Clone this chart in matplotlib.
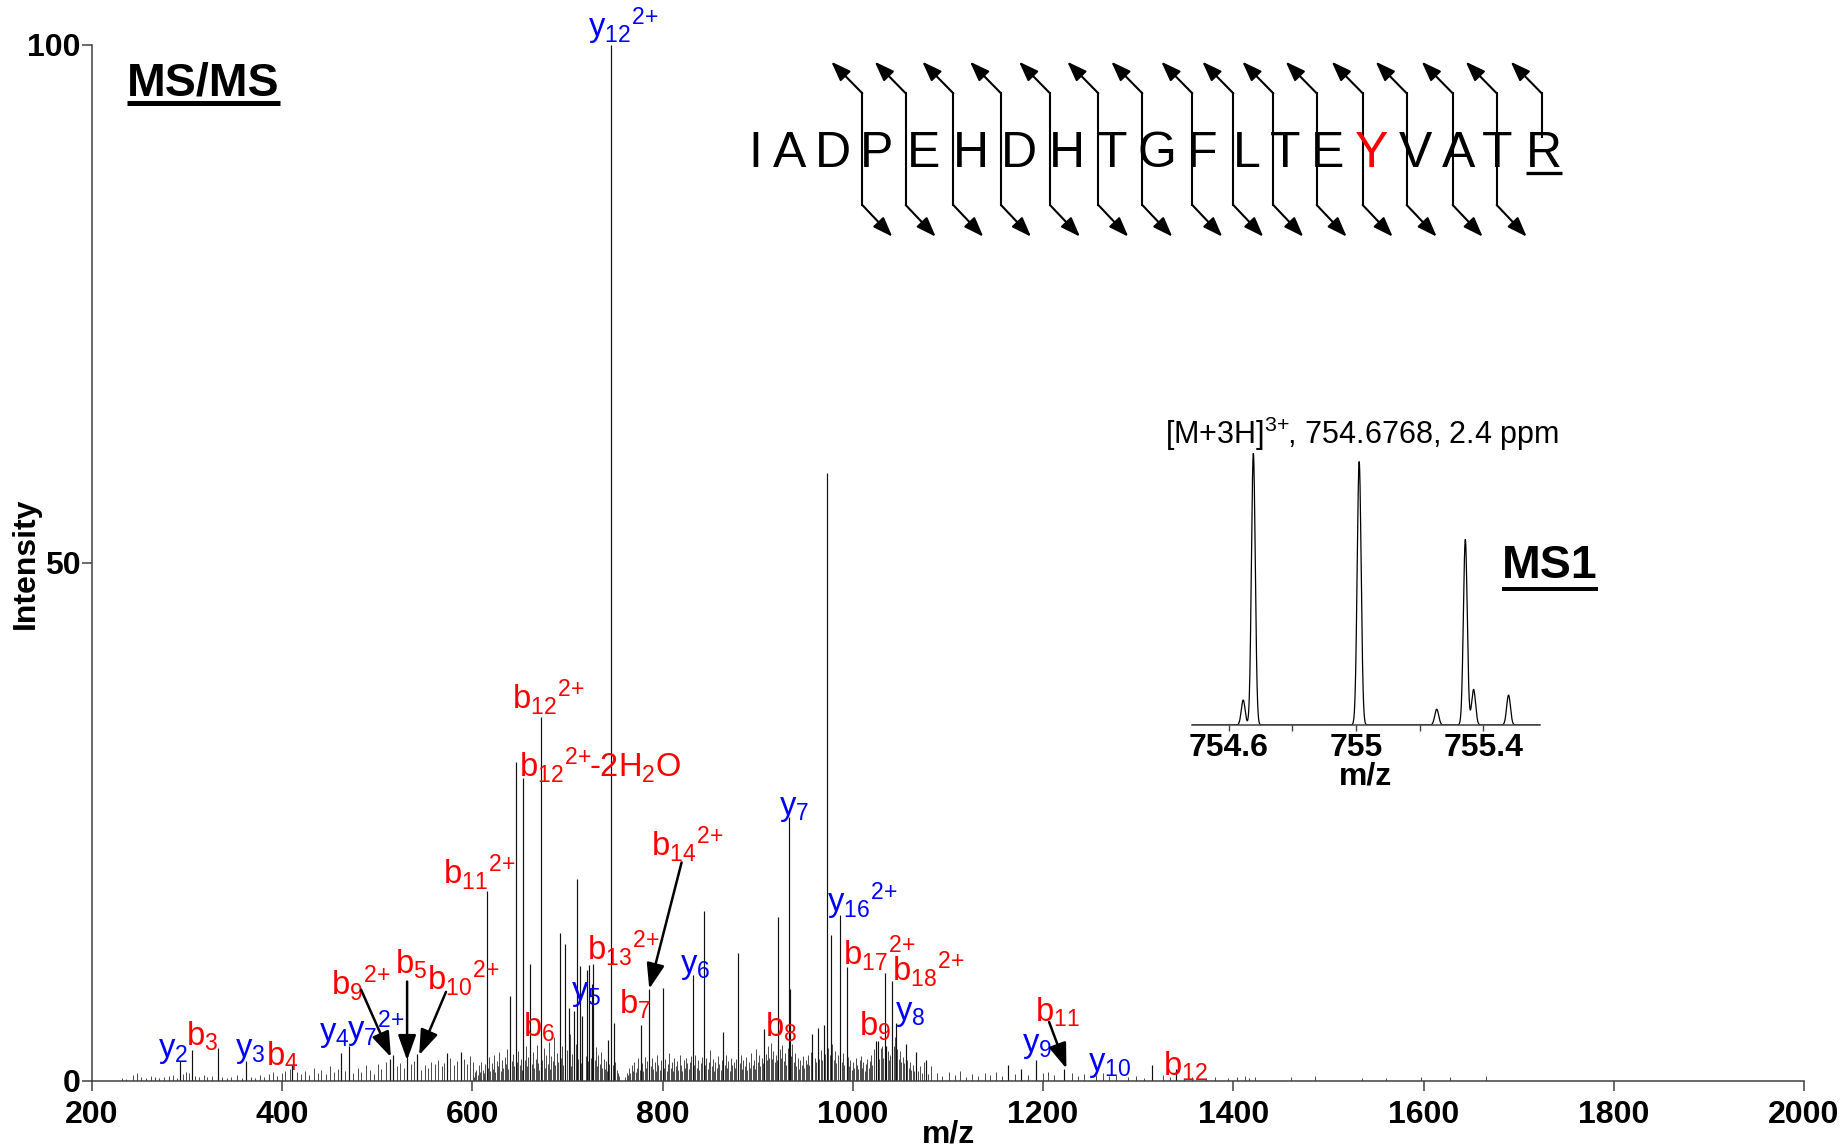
import numpy as np
import matplotlib
matplotlib.use("Agg")
import matplotlib.pyplot as plt
from matplotlib.lines import Line2D
from matplotlib.patches import FancyArrowPatch

plt.rcParams['font.family'] = ['Liberation Sans', 'DejaVu Sans']
plt.rcParams['mathtext.fontset'] = 'custom'
plt.rcParams['mathtext.rm'] = 'Liberation Sans'
plt.rcParams['mathtext.it'] = 'Liberation Sans:italic'
plt.rcParams['mathtext.bf'] = 'Liberation Sans:bold'
plt.rcParams['mathtext.default'] = 'regular'

W, H = 1848, 1147

# ---------------- MS/MS spectrum: labelled / prominent peaks
peak_mz = [292.0, 304.7, 332.2, 362.4, 410.6, 462.0, 470.6, 513.4, 516.7, 531.5, 542.0, 573.0, 587.8,
           615.0, 639.5, 645.4, 653.5, 660.5, 671.7, 691.6, 697.8, 701.8, 706.7, 710.0, 713.0, 714.8,
           720.0, 722.8, 725.3, 727.0, 742.0, 745.6, 749.0,
           777.3, 786.0, 800.0, 831.8, 843.0, 863.6, 879.4, 906.8, 921.6, 932.5, 933.9, 957.0, 963.0,
           969.6, 972.3, 977.0, 986.0, 993.3,
           1024.0, 1026.6, 1033.7, 1035.0, 1041.5, 1045.5, 1055.8, 1066.0, 1077.0,
           1163.0, 1177.0, 1192.8, 1222.0, 1314.0, 1340.0]
peak_int = [1.9, 3.0, 3.2, 1.9, 1.5, 2.7, 3.4, 2.1, 2.5, 2.3, 2.6, 2.7, 2.8,
            18.3, 8.2, 30.8, 29.2, 11.3, 35.1, 14.3, 13.2, 7.0, 6.8, 19.5, 11.1, 6.3,
            10.7, 11.2, 9.4, 11.3, 4.0, 100.0, 5.6,
            5.4, 8.9, 9.0, 10.2, 16.4, 4.7, 12.4, 5.0, 15.8, 25.5, 8.9, 4.5, 5.1,
            5.4, 58.7, 14.1, 16.0, 11.0,
            3.9, 3.9, 10.4, 3.4, 9.7, 5.6, 3.6, 2.8, 2.0,
            1.5, 1.2, 2.0, 1.2, 1.5, 1.2]

# small background peaks, low m/z
low_mz = [231.5, 236.0, 243.4, 247.0, 251.8, 256.3, 262.0, 266.5, 270.8, 275.2,
          280.9, 285.4, 289.6, 295.3, 299.1, 302.0, 308.4, 312.7, 317.9, 321.3,
          326.0, 336.8, 341.5, 346.2, 352.0, 357.4, 366.8, 371.5, 376.3, 381.0,
          386.6, 390.2, 394.8, 399.5, 403.0, 407.9, 415.3, 419.8, 424.4, 428.1,
          433.0, 437.7, 441.2, 446.5, 450.1, 454.8, 458.3, 466.2, 474.9, 479.5,
          483.3, 487.9, 492.4, 496.0, 500.7, 504.3, 508.8, 520.4, 524.0, 527.6,
          535.3, 538.8, 546.1, 549.7, 553.2, 556.9, 560.4, 564.1, 567.6, 570.3,
          576.8, 580.5, 584.0, 590.9, 594.3, 597.8, 601.0]
low_int = [0.3, 0.2, 0.6, 0.8, 0.4, 0.3, 0.5, 0.4, 0.3, 0.4,
           0.5, 0.6, 0.3, 0.7, 0.9, 0.8, 0.5, 0.4, 0.6, 0.4,
           0.5, 0.4, 0.3, 0.4, 0.6, 0.3, 0.4, 0.3, 0.6, 0.4,
           0.7, 0.9, 0.5, 0.8, 1.0, 1.2, 0.9, 0.7, 1.0, 0.6,
           1.3, 0.8, 1.1, 0.7, 1.4, 0.9, 1.2, 1.0, 0.8, 1.3,
           0.9, 1.5, 1.1, 0.7, 1.6, 1.2, 1.8, 1.4, 1.7, 1.3,
           1.6, 1.9, 1.1, 1.5, 1.3, 1.8, 1.6, 2.0, 1.4, 1.7,
           2.2, 1.5, 1.9, 2.1, 1.6, 2.4, 1.8]

# dense background, 600-755
mid_mz = [601.2, 602.9, 604.1, 605.6, 606.8, 608.3, 609.5, 611.0, 612.4, 613.6,
          616.2, 617.5, 618.9, 620.3, 621.6, 622.8, 624.2, 625.7, 627.0, 628.4,
          629.6, 631.1, 632.5, 633.8, 635.2, 636.6, 637.9, 641.3, 642.6, 643.9,
          646.8, 648.1, 649.5, 650.8, 652.2, 654.9, 656.2, 657.6, 658.9, 662.4,
          663.7, 665.1, 666.4, 667.8, 669.1, 670.5, 673.6, 674.9, 676.3, 677.6,
          679.0, 680.3, 681.7, 683.0, 684.4, 685.7, 687.1, 688.4, 689.8, 693.0,
          694.4, 695.7, 699.6, 701.0, 702.3, 703.7, 705.0, 708.5, 709.2, 711.5,
          712.8, 714.2, 715.5, 718.9, 720.2, 721.6, 722.9, 724.3, 725.6, 728.4,
          729.7, 731.1, 732.4, 733.8, 735.1, 736.5, 737.8, 739.2, 740.5, 741.9,
          743.2, 744.0, 747.3, 750.1, 751.5, 752.8, 754.0]
mid_int = [0.4, 0.9, 1.1, 0.6, 1.5, 0.9, 1.8, 1.1, 0.8, 1.6,
           1.3, 2.3, 1.0, 1.7, 1.2, 2.5, 0.9, 1.9, 1.4, 2.8,
           1.0, 2.0, 1.3, 2.3, 1.6, 3.1, 1.2, 1.9, 2.6, 1.4,
           1.8, 2.9, 1.5, 2.1, 1.1, 2.0, 3.4, 1.4, 2.3, 1.6,
           2.8, 1.3, 2.1, 3.5, 1.7, 1.1, 2.0, 3.2, 1.3, 2.5,
           1.6, 3.8, 1.2, 2.4, 1.9, 4.2, 1.5, 2.7, 1.8, 2.2,
           3.4, 1.5, 3.0, 2.0, 4.5, 1.4, 2.6, 1.8, 3.6, 2.1,
           4.0, 1.7, 2.9, 2.4, 3.8, 1.9, 3.2, 2.2, 4.8, 2.0,
           3.3, 1.4, 2.5, 1.6, 2.8, 1.3, 2.1, 1.2, 1.9, 1.0,
           1.6, 0.9, 1.5, 1.8, 1.1, 0.8, 0.5]

# dense background, 760-1083
high_mz = [760.5, 762.0, 763.4, 764.8, 766.1, 767.5, 768.9, 770.2, 771.6, 773.0,
           774.3, 775.7, 778.5, 779.8, 781.2, 782.6, 783.9, 787.4, 788.8, 790.1,
           791.5, 792.9, 794.2, 795.6, 797.0, 798.3, 801.5, 802.9, 804.2, 805.6,
           807.0, 808.3, 809.7, 811.1, 812.4, 813.8, 815.2, 816.5, 817.9, 819.3,
           820.6, 822.0, 823.4, 824.7, 826.1, 827.5, 828.8, 830.2, 833.0, 834.3,
           835.7, 837.1, 838.4, 839.8, 841.2, 844.6, 846.0, 847.3, 848.7, 850.1,
           851.4, 852.8, 854.2, 855.5, 856.9, 858.3, 859.6, 861.0, 862.4, 865.1,
           866.5, 867.9, 869.2, 870.6, 872.0, 873.3, 874.7, 876.1, 877.4, 880.8,
           882.2, 883.5, 884.9, 886.3, 887.6, 889.0, 890.4, 891.7, 893.1, 894.5,
           895.8, 897.2, 898.6, 899.9, 901.3, 902.7, 904.0, 905.4, 908.2, 909.5,
           910.9, 912.3, 913.6, 915.0, 916.4, 917.7, 919.1, 920.4, 923.2, 924.5,
           925.9, 927.3, 928.6, 930.0, 931.4, 935.1, 936.5, 937.9, 939.2, 940.6,
           942.0, 943.3, 944.7, 946.1, 947.4, 948.8, 950.2, 951.5, 952.9, 954.3,
           955.6, 960.3, 961.0, 964.5, 966.2, 967.8, 970.5, 973.8, 976.2, 978.4,
           979.8, 981.1, 982.5, 983.9, 988.3, 989.6, 991.0, 994.7, 996.0, 997.4,
           998.8, 1000.1, 1001.5, 1002.9, 1004.2, 1005.6, 1007.0, 1008.3, 1009.7, 1011.1,
           1012.4, 1013.8, 1015.2, 1016.5, 1017.9, 1019.3, 1020.6, 1022.0, 1027.8, 1029.1,
           1030.5, 1031.9, 1036.4, 1037.8, 1039.2, 1043.0, 1044.4, 1046.8, 1048.2, 1049.6,
           1050.9, 1052.3, 1053.7, 1057.2, 1058.6, 1060.0, 1061.3, 1062.7, 1064.1, 1066.0,
           1068.2, 1070.5, 1072.3, 1074.8, 1077.0, 1079.4, 1082.6]
high_int = [0.4, 0.8, 0.6, 1.3, 0.8, 1.5, 1.0, 1.8, 0.9, 1.3,
            2.2, 1.1, 1.7, 1.0, 2.3, 1.3, 1.9, 1.4, 2.2, 1.2,
            1.8, 1.0, 2.5, 1.5, 1.1, 2.0, 1.3, 2.1, 1.0, 1.6,
            2.7, 1.3, 1.8, 1.0, 2.2, 1.4, 1.9, 1.1, 2.5, 1.5,
            1.0, 2.0, 1.3, 2.2, 1.7, 1.2, 1.8, 2.4, 1.5, 2.5,
            1.3, 2.0, 1.1, 1.7, 2.3, 1.5, 2.2, 1.2, 1.8, 3.0,
            1.4, 2.1, 1.0, 1.8, 1.3, 2.4, 1.6, 1.1, 2.0, 1.5,
            2.5, 1.3, 1.9, 1.0, 2.2, 1.5, 1.8, 1.3, 2.1, 1.7,
            2.5, 1.2, 2.0, 1.4, 2.3, 1.1, 1.8, 1.3, 2.7, 1.5,
            2.0, 1.2, 3.1, 1.8, 2.5, 1.4, 2.2, 1.7, 2.6, 2.0,
            3.4, 2.2, 3.7, 2.1, 2.9, 1.8, 2.5, 2.0, 3.1, 2.2,
            3.5, 1.9, 2.7, 1.5, 3.2, 2.4, 3.6, 1.8, 2.7, 1.4,
            2.2, 1.2, 2.0, 1.5, 2.4, 1.3, 2.0, 1.6, 2.5, 1.5,
            2.8, 2.2, 1.8, 2.1, 3.0, 2.0, 2.6, 3.2, 2.5, 3.6,
            2.0, 2.9, 1.7, 2.5, 1.8, 2.7, 1.5, 2.3, 1.4, 2.0,
            1.1, 1.8, 1.3, 2.2, 1.5, 1.2, 2.0, 2.4, 1.3, 1.8,
            1.0, 1.6, 2.1, 1.3, 1.9, 2.5, 1.5, 3.1, 2.1, 3.2,
            3.4, 2.2, 2.9, 2.0, 2.5, 3.4, 4.2, 3.1, 2.1, 2.9,
            1.8, 2.3, 1.7, 2.0, 1.3, 1.8, 1.1, 1.5, 1.0, 2.0,
            1.0, 1.4, 0.8, 1.8, 0.9, 0.7, 1.4]

# sparse background, high m/z
tail_mz = [1088.5, 1094.0, 1101.2, 1107.8, 1112.4, 1119.0, 1125.6, 1131.3, 1138.9, 1144.2,
           1150.7, 1156.3, 1170.1, 1184.5, 1199.6, 1205.3, 1211.8, 1230.4, 1236.7, 1243.2,
           1256.0, 1263.1, 1269.4, 1276.5, 1288.9, 1297.3, 1306.0, 1325.7, 1333.4, 1348.2,
           1356.9, 1371.5, 1381.0, 1394.2, 1403.7, 1412.0, 1416.8, 1422.3, 1461.0, 1486.0,
           1535.6, 1561.0, 1597.0, 1627.6, 1666.0]
tail_int = [0.8, 0.5, 0.9, 0.6, 1.0, 0.4, 0.7, 0.5, 0.8, 0.6,
            0.9, 0.5, 0.7, 0.6, 0.8, 0.9, 0.6, 0.8, 0.5, 0.7,
            0.6, 0.8, 0.5, 0.6, 0.4, 0.5, 0.3, 0.6, 0.4, 0.3,
            0.4, 0.3, 0.4, 0.3, 0.4, 0.5, 0.3, 0.4, 0.4, 0.5,
            0.3, 0.3, 0.4, 0.4, 0.5]

# fragment ion labels (left edge m/z, baseline intensity)
Z2 = '$^{2\\!+\\!\\!}$'
ion_text = ['y$_{12}$' + Z2, 'b$_{12}$' + Z2, 'b$_{12}$' + Z2 + '-2H$_2$O', 'b$_{11}$' + Z2,
            'b$_{14}$' + Z2, 'y$_7$', 'y$_{16}$' + Z2, 'b$_{17}$' + Z2, 'b$_{18}$' + Z2,
            'y$_8$', 'b$_9$', 'b$_8$', 'y$_6$', 'b$_{13}$' + Z2, 'y$_5$', 'b$_7$', 'b$_6$',
            'b$_{10}$' + Z2, 'b$_5$', 'b$_9$' + Z2, 'y$_4$', 'y$_7$' + Z2, 'y$_2$', 'b$_3$',
            'y$_3$', 'b$_4$', 'y$_9$', 'b$_{11}$', 'y$_{10}$', 'b$_{12}$']
ion_mz = [721.6, 641.2, 649.0, 569.2, 787.6, 922.5, 972.3, 989.8, 1040.7, 1044.0, 1006.6, 907.5,
          818.2, 720.7, 703.2, 754.0, 653.4, 552.4, 519.1, 451.6, 438.5, 468.0, 269.4, 299.0,
          350.2, 383.0, 1178.3, 1191.3, 1247.3, 1326.0]
ion_y = [100.8, 35.9, 29.4, 19.0, 21.7, 25.7, 16.3, 11.2, 9.7, 5.9, 4.4, 4.25,
         10.4, 11.7, 7.8, 6.5, 4.25, 8.8, 10.4, 8.3, 3.9, 3.9, 2.3, 3.4,
         2.3, 1.5, 2.8, 5.7, 1.0, 0.55]

# label arrows: (from m/z, from intensity) -> (to m/z, to intensity)
arrow_from = [(483.0, 8.8), (531.3, 9.6), (572.2, 8.6), (819.9, 21.1), (1206.3, 5.7)]
arrow_to = [(514.3, 2.3), (531.3, 2.0), (544.0, 2.5), (785.9, 8.9), (1224.5, 1.2)]

# ---------------- MS1 inset: isotope cluster
ms1_mz = [754.645, 754.677, 755.010, 755.254, 755.344, 755.370, 755.480]
ms1_int = [9.2, 100.0, 96.9, 5.8, 68.3, 13.1, 11.0]
ms1_sigma = [0.0060, 0.0060, 0.0062, 0.0062, 0.0060, 0.0062, 0.0060]

# ---------------- peptide sequence
sequence = "IADPEHDHTGFLTEYVATR"


def fig_xy(x, y):
    # pixel position measured from top-left -> figure fraction
    return x / W, 1 - y / H


fig = plt.figure(figsize=(W / 100, H / 100), dpi=100)
ax = fig.add_axes([92 / W, 1 - 1081 / H, (1804 - 92) / W, (1081 - 45) / H])

grass = '#4a4a4a'
ax.vlines(low_mz, 0, low_int, color=grass, lw=0.7)
ax.vlines(mid_mz, 0, mid_int, color=grass, lw=0.7)
ax.vlines(high_mz, 0, high_int, color=grass, lw=0.7)
ax.vlines(tail_mz, 0, tail_int, color=grass, lw=0.7)
ax.vlines(peak_mz, 0, peak_int, color='#111111', lw=0.85)

ax.set_xlim(200, 2000)
ax.set_ylim(0, 100)
ax.spines[['top', 'right']].set_visible(False)
for s in ['left', 'bottom']:
    ax.spines[s].set_color('#404040')
    ax.spines[s].set_linewidth(1.1)
ax.set_xticks(range(200, 2001, 200))
ax.set_yticks([0, 50, 100])
ax.tick_params(axis='both', length=7.5, width=1.1, color='#404040', labelsize=23)
ax.tick_params(axis='x', pad=6)
ax.tick_params(axis='y', pad=1)
for lab in ax.get_xticklabels() + ax.get_yticklabels():
    lab.set_fontweight('bold')
ax.set_xlabel('m/z', fontsize=23, fontweight='bold', va='center')
ax.xaxis.set_label_coords(0.5, -0.052)
ax.set_ylabel('Intensity', fontsize=23, fontweight='bold', va='center')
ax.yaxis.set_label_coords(-0.0386, 0.5)

for txt, x, y in zip(ion_text, ion_mz, ion_y):
    col = '#0000FF' if txt.startswith('y') else '#FF0000'
    ax.text(x, y, txt, color=col, fontsize=23.5, ha='left', va='baseline', clip_on=False)

for (x0, y0), (x1, y1) in zip(arrow_from, arrow_to):
    ax.annotate('', xy=(x1, y1), xytext=(x0, y0),
                arrowprops=dict(arrowstyle='-|>,head_length=0.7,head_width=0.25',
                                mutation_scale=22, lw=1.8, color='black',
                                shrinkA=0, shrinkB=0))

# panel titles and precursor annotation
t_msms = fig.text(*fig_xy(127, 95), 'MS/MS', fontsize=33.5, fontweight='bold',
                  ha='left', va='baseline')
t_ms1 = fig.text(*fig_xy(1502, 578), 'MS1', fontsize=33.5, fontweight='bold',
                 ha='left', va='baseline')
fig.text(*fig_xy(1165, 444), '[M+3H]$^{3\\!+\\!\\!}$, 754.6768, 2.4 ppm', fontsize=22,
         ha='left', va='baseline')

# ---------------- inset MS1
axi = fig.add_axes([1191.7 / W, 1 - 725 / H, (1540 - 1191.7) / W, (725 - 453.3) / H])
grid = np.linspace(754.483, 755.579, 4000)
profile = np.zeros_like(grid)
for m, h, s in zip(ms1_mz, ms1_int, ms1_sigma):
    profile += h * np.exp(-0.5 * ((grid - m) / s) ** 2)
axi.plot(grid, profile, color='black', lw=0.9)
axi.set_xlim(754.483, 755.579)
axi.set_ylim(0, 100)
axi.patch.set_alpha(0)
for s in ['top', 'right', 'left']:
    axi.spines[s].set_visible(False)
axi.spines['bottom'].set_color('#404040')
axi.spines['bottom'].set_linewidth(1.1)
axi.set_yticks([])
axi.set_xticks([754.6, 755.0, 755.4])
axi.set_xticklabels(['754.6', '755', '755.4'])
axi.set_xticks([754.8, 755.2], minor=True)
axi.tick_params(axis='x', which='both', length=4, width=1.0, color='#404040',
                labelsize=23, pad=2)
for lab in axi.get_xticklabels():
    lab.set_fontweight('bold')
axi.set_xlabel('m/z', fontsize=23, fontweight='bold', va='center')
axi.xaxis.set_label_coords(0.5, -0.19)

# ---------------- peptide sequence with fragmentation marks
letter_x = [755, 789.3, 833.3, 876.7, 924, 970.7, 1019, 1067.3, 1112.3, 1157.3,
            1202.3, 1246.7, 1285, 1327.3, 1371.7, 1415.7, 1458.3, 1497.3, 1544]
cleave_x = [862.3, 905.7, 953.3, 1001, 1050, 1098.3, 1142.3, 1192.3, 1233.3, 1273.3,
            1316.7, 1362.7, 1406.7, 1452.7, 1496.7, 1541.7]
seq_base = 166.7
letters = []
for ch, x in zip(sequence, letter_x):
    letters.append(fig.text(*fig_xy(x, seq_base), ch, fontsize=36, ha='center',
                            va='baseline', color='#FF0000' if ch == 'Y' else 'black'))

arrow_kw = dict(arrowstyle='-|>,head_length=0.6,head_width=0.22', mutation_scale=20,
                lw=1.5, color='black', shrinkA=0, shrinkB=0)
n_cut = len(cleave_x)
for i, x in enumerate(cleave_x):
    last = i == n_cut - 1
    y_bottom = 137 if last else 205
    fig.add_artist(Line2D([x / W, x / W], [1 - 93.3 / H, 1 - y_bottom / H],
                          transform=fig.transFigure, color='black', lw=1.5))
    fig.add_artist(FancyArrowPatch(fig_xy(x, 93.3), fig_xy(x - 31, 61.7),
                                   transform=fig.transFigure, **arrow_kw))
    if not last:
        fig.add_artist(FancyArrowPatch(fig_xy(x, 205), fig_xy(x + 30, 236.7),
                                       transform=fig.transFigure, **arrow_kw))

# underlines
fig.canvas.draw()
inv = fig.transFigure.inverted()
for t, y_line, lw_px in [(t_msms, 102.5, 5), (t_ms1, 589, 4), (letters[-1], 173.3, 3.3)]:
    bb = t.get_window_extent()
    x0, _ = inv.transform((bb.x0, 0))
    x1, _ = inv.transform((bb.x1, 0))
    fig.add_artist(Line2D([x0, x1], [1 - y_line / H] * 2, transform=fig.transFigure,
                          color='black', lw=lw_px * 0.72, solid_capstyle='butt'))

fig.savefig('out.png', dpi=100)
